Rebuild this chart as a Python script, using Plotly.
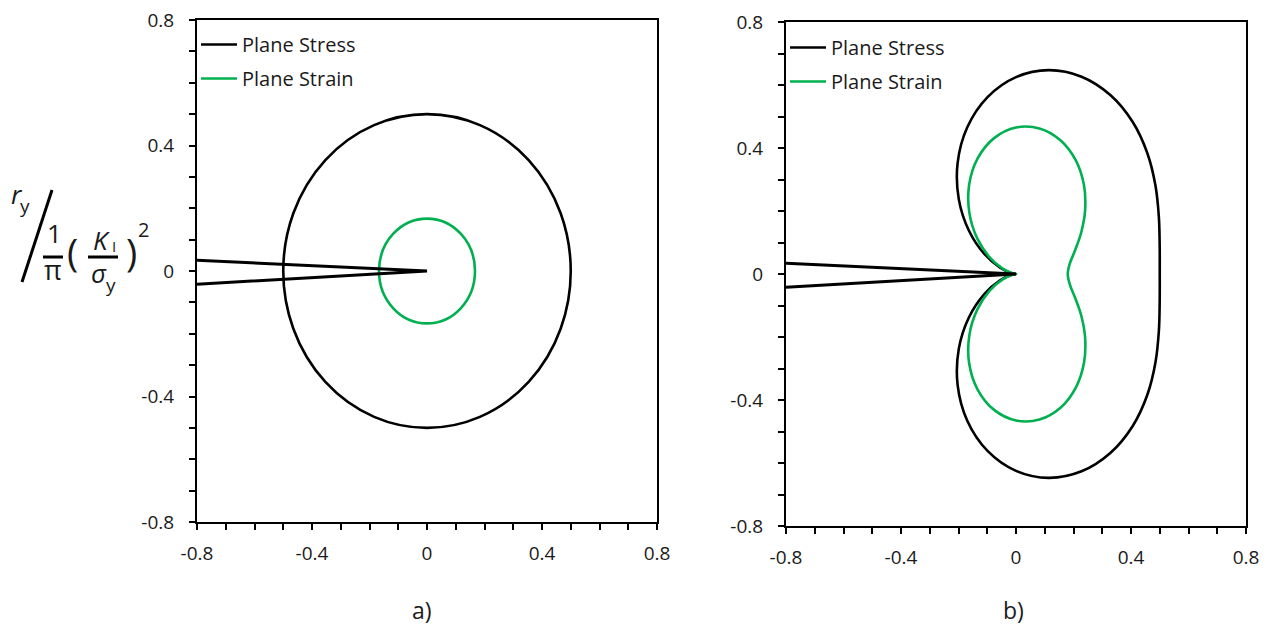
import plotly.graph_objects as go

# ---------------- data ----------------
# Panel a) Irwin plastic-zone radii (normalised by (1/pi)(K/sigma_y)^2)
irwin_radius_stress = 0.5
irwin_radius_strain = 0.167

# Crack faces (both panels)
crack_x = [-0.8, 0.0, -0.8]
crack_y = [0.034, 0.0, -0.042]

# Panel b) von Mises plastic-zone boundary, plane stress
stress_x = [0.0, -0.0149, -0.0554, -0.1102, -0.1635, -0.1989, -0.2031, -0.1695, -0.0990, 0.0,
            0.1141, 0.2280, 0.3281, 0.4055, 0.4569, 0.4852, 0.4969, 0.4998, 0.5000,
            0.4998, 0.4969, 0.4852, 0.4569, 0.4055, 0.3281, 0.2280, 0.1141, 0.0,
            -0.0990, -0.1695, -0.2031, -0.1989, -0.1635, -0.1102, -0.0554, -0.0149, 0.0]
stress_y = [0.0, 0.0026, 0.0202, 0.0636, 0.1372, 0.2370, 0.3518, 0.4657, 0.5616, 0.6250,
            0.6471, 0.6264, 0.5683, 0.4832, 0.3834, 0.2801, 0.1809, 0.0881, 0.0,
            -0.0881, -0.1809, -0.2801, -0.3834, -0.4832, -0.5683, -0.6264, -0.6471, -0.6250,
            -0.5616, -0.4657, -0.3518, -0.2370, -0.1372, -0.0636, -0.0202, -0.0026, 0.0]

# Panel b) von Mises plastic-zone boundary, plane strain
strain_x = [0.0, -0.0125, -0.0463, -0.0916, -0.1348, -0.1621, -0.1631, -0.1335, -0.0761, 0.0,
            0.0815, 0.1546, 0.2081, 0.2365, 0.2404, 0.2266, 0.2053, 0.1871, 0.1800,
            0.1871, 0.2053, 0.2266, 0.2404, 0.2365, 0.2081, 0.1546, 0.0815, 0.0,
            -0.0761, -0.1335, -0.1631, -0.1621, -0.1348, -0.0916, -0.0463, -0.0125, 0.0]
strain_y = [0.0, 0.0022, 0.0169, 0.0529, 0.1131, 0.1932, 0.2826, 0.3668, 0.4314, 0.4650,
            0.4622, 0.4247, 0.3605, 0.2818, 0.2018, 0.1309, 0.0747, 0.0330, 0.0,
            -0.0330, -0.0747, -0.1309, -0.2018, -0.2818, -0.3605, -0.4247, -0.4622, -0.4650,
            -0.4314, -0.3668, -0.2826, -0.1932, -0.1131, -0.0529, -0.0169, -0.0022, 0.0]

series_names = ["Plane Stress", "Plane Strain"]
tick_vals = [-0.8, -0.4, 0.0, 0.4, 0.8]
tick_text = ["-0.8", "-0.4", "0", "0.4", "0.8"]
panel_labels = ["a)", "b)"]

# ---------------- style ----------------
W, H = 1269, 626
BLACK = "#000000"
GREEN = "#00B050"
FONT = "Open Sans"
TXT = "#1a1a1a"


def px(x):
    return x / W


def py(y):
    return 1 - y / H


fig = go.Figure()

# ---- panel a) ----
fig.add_trace(go.Scatter(x=crack_x, y=crack_y, mode="lines", line=dict(color=BLACK, width=3),
                         showlegend=False, xaxis="x", yaxis="y", hoverinfo="skip"))
fig.add_trace(go.Scatter(x=[None], y=[None], mode="lines", name=series_names[0],
                         line=dict(color=BLACK, width=2.5), legend="legend", legendgroup="a1",
                         xaxis="x", yaxis="y"))
fig.add_trace(go.Scatter(x=[None], y=[None], mode="lines", name=series_names[1],
                         line=dict(color=GREEN, width=2.5), legend="legend", legendgroup="a2",
                         xaxis="x", yaxis="y"))

# ---- panel b) ----
fig.add_trace(go.Scatter(x=stress_x, y=stress_y, mode="lines", name=series_names[0],
                         line=dict(color=BLACK, width=2.6, shape="spline", smoothing=1.0),
                         legend="legend2", legendgroup="b1", xaxis="x2", yaxis="y2"))
fig.add_trace(go.Scatter(x=strain_x, y=strain_y, mode="lines", name=series_names[1],
                         line=dict(color=GREEN, width=2.6, shape="spline", smoothing=1.0),
                         legend="legend2", legendgroup="b2", xaxis="x2", yaxis="y2"))
fig.add_trace(go.Scatter(x=crack_x, y=crack_y, mode="lines", line=dict(color=BLACK, width=3),
                         showlegend=False, xaxis="x2", yaxis="y2", hoverinfo="skip"))

shapes = []
# Irwin circles
for r, col in [(irwin_radius_stress, BLACK), (irwin_radius_strain, GREEN)]:
    shapes.append(dict(type="circle", xref="x", yref="y", x0=-r, x1=r, y0=-r, y1=r,
                       line=dict(color=col, width=2.6), layer="below"))

# y-title decorations (slash and fraction bars)
shapes.append(dict(type="line", xref="paper", yref="paper", x0=px(22), y0=py(282), x1=px(52), y1=py(190),
                   line=dict(color=BLACK, width=3)))
shapes.append(dict(type="line", xref="paper", yref="paper", x0=px(43), y0=py(257), x1=px(63), y1=py(257),
                   line=dict(color=BLACK, width=3)))
shapes.append(dict(type="line", xref="paper", yref="paper", x0=px(88), y0=py(257), x1=px(118), y1=py(257),
                   line=dict(color=BLACK, width=3)))

annotations = []


def ann(text, x, y, size, color=TXT):
    annotations.append(dict(text=text, x=px(x), y=py(y), xref="paper", yref="paper",
                            xanchor="center", yanchor="middle", showarrow=False,
                            font=dict(family=FONT, size=size, color=color)))


ann("<i>r</i>", 17, 194, 26)
ann("y", 25, 206, 19)
ann("1", 54, 233, 26)
ann("π", 53, 270, 27)
ann("(", 72, 252, 38)
ann("<i>K</i>", 101, 240, 26)
ann("I", 114, 246, 15)
ann("<i>σ</i>", 99, 273, 26)
ann("y", 111, 285, 19)
ann(")", 131, 252, 38)
ann("2", 143, 229, 20)

ann(panel_labels[0], 422, 610, 23)
ann(panel_labels[1], 1013, 610, 23)

axis_common = dict(range=[-0.8, 0.8], tickvals=tick_vals, ticktext=tick_text,
                   ticks="outside", ticklen=6, tickwidth=1.5, tickcolor=BLACK,
                   minor=dict(dtick=0.1, ticks="outside", ticklen=6, tickwidth=1.5, tickcolor=BLACK),
                   showline=True, linewidth=2, linecolor=BLACK, mirror=True,
                   showgrid=False, zeroline=False, automargin=False,
                   tickfont=dict(family=FONT, size=19, color=TXT))

legend_common = dict(xanchor="left", yanchor="top", bgcolor="rgba(0,0,0,0)",
                     font=dict(family=FONT, size=20, color=TXT), traceorder="grouped",
                     tracegroupgap=5, itemwidth=36)

fig.update_layout(
    width=W, height=H,
    margin=dict(l=0, r=0, t=0, b=0),
    paper_bgcolor="white", plot_bgcolor="white",
    template="none",
    xaxis=dict(axis_common, domain=[px(197), px(657)], anchor="y", ticklabelstandoff=7),
    yaxis=dict(axis_common, domain=[py(522), py(20)], anchor="x", ticklabelstandoff=11),
    xaxis2=dict(axis_common, domain=[px(786), px(1246)], anchor="y2", ticklabelstandoff=7),
    yaxis2=dict(axis_common, domain=[py(526), py(22)], anchor="x2", ticklabelstandoff=11),
    legend=dict(legend_common, x=px(196), y=py(25)),
    legend2=dict(legend_common, x=px(785), y=py(28)),
    shapes=shapes,
    annotations=annotations,
    showlegend=True,
)

fig.write_html("out.html", config={"displayModeBar": False},
               post_script="document.body.style.margin='0';document.body.style.overflow='hidden';")
